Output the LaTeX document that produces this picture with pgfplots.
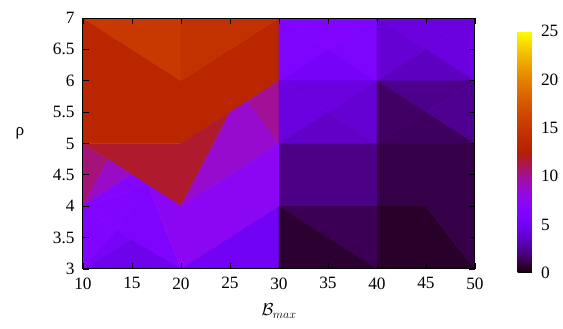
\documentclass[border=0pt]{standalone}
\usepackage{fontspec}
\setmainfont{Liberation Serif}
\usepackage{pgfplots}
\pgfplotsset{compat=1.18}
\pgfplotsset{colormap={gp}{
rgb255(0cm)=(0,0,0) rgb255(0.1cm)=(26,0,16) rgb255(0.2cm)=(36,0,32) rgb255(0.3cm)=(44,0,48)
rgb255(0.5cm)=(57,0,79) rgb255(0.75cm)=(70,0,116) rgb255(1cm)=(81,0,150) rgb255(1.25cm)=(90,0,180)
rgb255(1.5cm)=(99,1,206) rgb255(2cm)=(114,2,243) rgb255(2.5cm)=(128,4,255) rgb255(3cm)=(140,7,243)
rgb255(3.5cm)=(151,11,206) rgb255(4cm)=(161,16,150) rgb255(4.5cm)=(171,23,79) rgb255(4.75cm)=(176,27,40)
rgb255(5cm)=(180,32,0) rgb255(5.5cm)=(189,42,0) rgb255(6cm)=(198,55,0) rgb255(6.5cm)=(206,70,0)
rgb255(7cm)=(213,87,0) rgb255(7.5cm)=(221,108,0) rgb255(8cm)=(228,131,0) rgb255(8.5cm)=(235,157,0)
rgb255(9cm)=(242,186,0) rgb255(9.5cm)=(249,219,0) rgb255(10cm)=(255,255,0)}}
\begin{document}
\begin{tikzpicture}
\begin{axis}[name=main, scale only axis, width=392pt, height=251pt,
 xmin=10, xmax=50, ymin=3, ymax=7,
 xtick={10,15,...,50}, ytick={3,3.5,...,7},
 tick align=inside, major tick length=6pt,
 axis line style={line width=1pt},
 every tick/.style={black, line width=0.8pt},
 tick label style={font=\fontsize{17.28}{20}\selectfont},
 xticklabel style={yshift=-5pt},
 yticklabel style={xshift=-5pt},
 /pgf/number format/assume math mode=true,
 xlabel={$\mathcal{B}_{max}$}, ylabel={ρ},
 every axis x label/.style={at={(axis description cs:0.5,-0.167)}, anchor=center},
 every axis y label/.style={at={(axis description cs:-0.161,0.54)}, anchor=center},
 label style={font=\fontsize{17.28}{20}\selectfont},
 colormap name=gp, point meta min=0, point meta max=25,
 colorbar,
 colorbar style={scale only axis, width=18pt, height=242pt,
   at={(parent axis.south east)}, anchor=south west, xshift=34pt, yshift=-4pt,
   ytick={0,5,...,25}, major tick length=0pt, axis line style={draw=none},
   tick label style={font=\fontsize{17.28}{20}\selectfont},
   yticklabel style={xshift=2pt},
   /pgf/number format/assume math mode=true},
 axis on top]
% quadrilateral facets
\addplot[patch, patch type=rectangle, shader=faceted, faceted color=mapped color, line width=0.3pt, point meta=explicit]
table[meta=c]{
x y c
10 7 13.2
20 6 13.2
20 5 13.2
10 5 13.2
20 6 13.2
30 7 13.2
30 6 13.2
20 5 13.2
10 5 11.8
20 5 11.8
25 5.5 11.8
20 4 11.8
25 5.5 8.7
26.8 5.68 8.7
30 5 8.7
20 4 8.7
20 4 7.4
30 5 7.4
30 4 7.4
20 3 7.4
30 5 2.2
40 5 2.2
40 4 2.2
30 4 2.2
40 5 1.15
50 5 1.15
50 4 1.15
40 4 1.15
40 4 0.65
45 4 0.65
50 3 0.65
40 3 0.65
};
% triangular facets
\addplot[patch, patch type=triangle, shader=faceted, faceted color=mapped color, line width=0.3pt, point meta=explicit]
table[meta=c]{
x y c
10 7 15.2
20 7 15.2
20 6 15.2
20 6 14.5
20 7 14.5
30 7 14.5
30 6 10.0
26.8 5.68 10.0
30 5 10.0
10 5 10.5
12.55 4.745 10.5
10 4 10.5
12.55 4.745 8.9
14.93 4.507 8.9
10 4 8.9
10 4 6.5
14.93 4.507 6.5
16.63 4.337 6.5
10 4 6.4
16.63 4.337 6.4
13.4 3.63 6.4
10 4 6.4
13.4 3.63 6.4
10 3 6.4
13.4 3.63 6.1
16.63 4.337 6.1
20 3 6.1
13.4 3.63 6.1
20 3 6.1
14.93 3.47 6.1
10 3 5.6
13.4 3.63 5.6
14.93 3.47 5.6
10 3 4.7
14.93 3.47 4.7
20 3 4.7
16.63 4.337 7.4
20 4 7.4
20 3 7.4
20 3 5.0
30 4 5.0
30 3 5.0
30 7 6.3
40 7 6.3
35 6.5 6.3
30 7 6.2
35 6.5 6.2
30 6 6.2
40 7 6.0
40 6 6.0
35 6.5 6.0
30 6 5.4
40 6 5.4
35 6.5 5.4
40 7 4.3
50 7 4.3
45 6.5 4.3
50 7 4.3
50 6 4.3
45 6.5 4.3
40 7 3.9
45 6.5 3.9
40 6 3.9
40 6 3.4
50 6 3.4
45 6.5 3.4
30 6 4.3
40 6 4.3
35 5.5 4.3
30 6 4.3
35 5.5 4.3
30 5 4.3
40 6 3.9
40 5 3.9
35 5.5 3.9
30 5 3.6
40 5 3.6
35 5.5 3.6
40 6 2.3
50 6 2.3
45 5.5 2.3
50 6 2.4
50 5 2.4
45 5.5 2.4
40 6 1.6
45 5.5 1.6
40 5 1.6
40 5 1.5
50 5 1.5
45 5.5 1.5
30 4 1.35
40 4 1.35
40 3 1.35
30 4 0.75
40 3 0.75
30 3 0.75
45 4 1.15
50 4 1.15
50 3 1.15
};
\end{axis}
\path (main.south west) ++(-83pt,-60pt) rectangle ++(563pt,329pt);
\end{tikzpicture}
\end{document}
